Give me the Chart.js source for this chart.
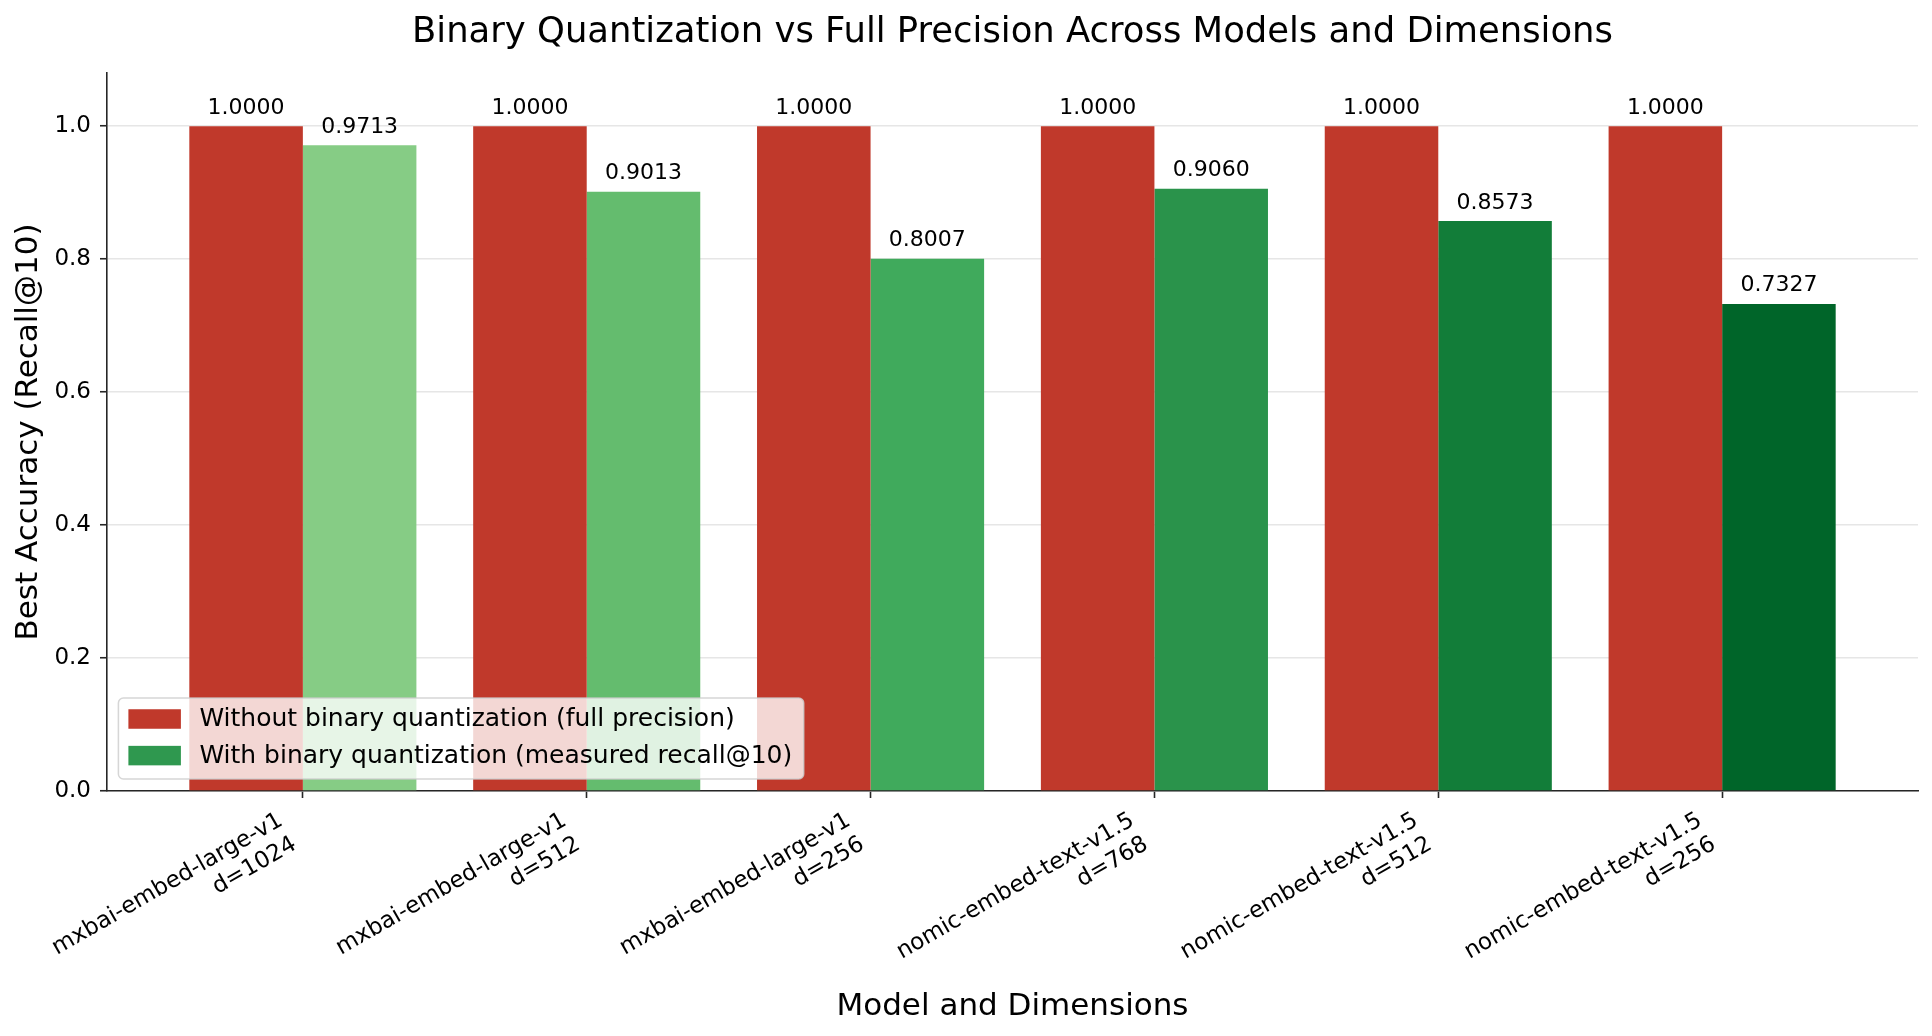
<!DOCTYPE html>
<html>
<head>
<meta charset="utf-8">
<script src="https://cdn.jsdelivr.net/npm/chart.js@4.4.1/dist/chart.umd.min.js"></script>
<style>
html,body{margin:0;padding:0;background:#fff;overflow:hidden}
canvas{display:block}
</style>
</head>
<body>
<canvas id="c" width="1932" height="1036"></canvas>
<script>
// ---------------- data ----------------
const modelNames = ['mxbai-embed-large-v1','mxbai-embed-large-v1','mxbai-embed-large-v1','nomic-embed-text-v1.5','nomic-embed-text-v1.5','nomic-embed-text-v1.5'];
const dimensions = ['1024','512','256','768','512','256'];
const fullPrecision = [1.0000, 1.0000, 1.0000, 1.0000, 1.0000, 1.0000];
const binaryRecall = [0.9713, 0.9013, 0.8007, 0.9060, 0.8573, 0.7327];
const yTickValues = [0.0, 0.2, 0.4, 0.6, 0.8, 1.0];
const seriesLabels = ['Without binary quantization (full precision)', 'With binary quantization (measured recall@10)'];
const chartTitle = 'Binary Quantization vs Full Precision Across Models and Dimensions';
const xTitle = 'Model and Dimensions';
const yTitle = 'Best Accuracy (Recall@10)';

// ---------------- styles ----------------
const FONT = "'DejaVu Sans', 'Liberation Sans', sans-serif";
const DARK = '#262626';
const redColor = '#c0392b';
const greenShades = ['rgb(134,204,133)','rgb(100,188,110)','rgb(64,170,92)','rgb(42,147,75)','rgb(18,125,57)','rgb(0,101,41)'];
const legendGreen = 'rgb(47,152,79)';

const barLabelPlugin = {
  id: 'barLabels',
  afterDatasetsDraw(chart) {
    const ctx = chart.ctx;
    ctx.save();
    ctx.font = '22px ' + FONT;
    ctx.fillStyle = '#000';
    ctx.textAlign = 'center';
    ctx.textBaseline = 'alphabetic';
    chart.data.datasets.forEach((ds, di) => {
      const meta = chart.getDatasetMeta(di);
      meta.data.forEach((bar, i) => {
        ctx.fillText(ds.data[i].y.toFixed(4), bar.x, bar.y - 12.4);
      });
    });
    ctx.restore();
  }
};

const shiftXLabels = {
  id: 'shiftXLabels',
  beforeDraw(chart) {
    const sc = chart.scales.x;
    const items = sc.getLabelItems();
    if (items && !items._shifted) {
      items.forEach(it => { it.options.translation[0] += -22; it.options.translation[1] += 2; });
      items._shifted = true;
    }
  }
};

const floatLegend = {
  id: 'floatLegend',
  afterDraw(chart) {
    const ctx = chart.ctx;
    const ca = chart.chartArea;
    const fontSize = 25;
    ctx.save();
    ctx.font = fontSize + 'px ' + FONT;
    const ds = chart.data.datasets;
    let maxW = 0;
    ds.forEach(d => { maxW = Math.max(maxW, ctx.measureText(d.label).width); });
    const bx = ca.left + 11.4;
    const bh = 81;
    const by = ca.bottom - 12 - bh;
    const patchX = bx + 10, patchW = 52.5, patchH = 19.5;
    const textX = bx + 81;
    const bw = (textX - bx) + maxW + 11.5;
    ctx.beginPath();
    ctx.roundRect(bx, by, bw, bh, 5);
    ctx.fillStyle = 'rgba(255,255,255,0.8)';
    ctx.fill();
    ctx.lineWidth = 1.5;
    ctx.strokeStyle = 'rgba(204,204,204,0.8)';
    ctx.stroke();
    ds.forEach((d, i) => {
      const cy = by + 21 + i * 36.6;
      ctx.fillStyle = d.legendColor;
      ctx.fillRect(patchX, cy - patchH / 2, patchW, patchH);
      ctx.fillStyle = '#000';
      ctx.textAlign = 'left';
      ctx.textBaseline = 'middle';
      ctx.fillText(d.label, textX, cy + 0.5);
    });
    ctx.restore();
  }
};

new Chart(document.getElementById('c').getContext('2d'), {
  type: 'bar',
  data: {
    datasets: [
      { label: seriesLabels[0], data: fullPrecision.map((v, i) => ({ x: i, y: v })),
        backgroundColor: redColor, legendColor: redColor, borderWidth: 0,
        categoryPercentage: 0.8, barPercentage: 1.0 },
      { label: seriesLabels[1], data: binaryRecall.map((v, i) => ({ x: i, y: v })),
        backgroundColor: greenShades, legendColor: legendGreen, borderWidth: 0,
        categoryPercentage: 0.8, barPercentage: 1.0 }
    ]
  },
  options: {
    responsive: false,
    animation: false,
    devicePixelRatio: 1,
    layout: { padding: { left: 0, right: 14, top: 0, bottom: 0 } },
    plugins: {
      legend: { display: false },
      tooltip: { enabled: false },
      title: {
        display: true, text: chartTitle, fullSize: false, color: '#000',
        font: { family: FONT, size: 35.4, weight: 'normal', lineHeight: 1.2 },
        padding: { top: 11.2, bottom: 19.3 }
      }
    },
    scales: {
      x: {
        type: 'linear', min: -0.69, max: 5.69, offset: false,
        afterBuildTicks: s => { s.ticks = modelNames.map((_, i) => ({ value: i })); },
        afterFit: s => { s.height = 245; },
        ticks: {
          autoSkip: false, minRotation: 30, maxRotation: 30, padding: 7, color: '#000',
          font: { family: FONT, size: 23 },
          callback: (v) => [modelNames[v], 'd=' + dimensions[v]]
        },
        grid: { display: true, offset: false, drawOnChartArea: false, drawTicks: true, tickLength: 7, tickColor: DARK, tickWidth: 1.6 },
        border: { display: true, color: DARK, width: 1.6 },
        title: { display: true, text: xTitle, color: '#000', font: { family: FONT, size: 31 }, padding: { top: 0, bottom: 10.8 } }
      },
      y: {
        min: 0, max: 1.08,
        afterBuildTicks: s => { s.ticks = yTickValues.map(v => ({ value: v })); },
        afterFit: s => { s.width = 107; },
        ticks: { padding: 9, color: '#000', font: { family: FONT, size: 23 }, callback: v => Number(v).toFixed(1) },
        grid: { color: '#e6e6e6', lineWidth: 1.5, drawTicks: true, tickLength: 7, tickColor: DARK, tickWidth: 1.6 },
        border: { display: true, color: DARK, width: 1.6 },
        title: { display: true, text: yTitle, color: '#000', font: { family: FONT, size: 31 }, padding: { top: 9.9, bottom: 0 } }
      }
    }
  },
  plugins: [shiftXLabels, barLabelPlugin, floatLegend]
});
</script>
</body>
</html>
